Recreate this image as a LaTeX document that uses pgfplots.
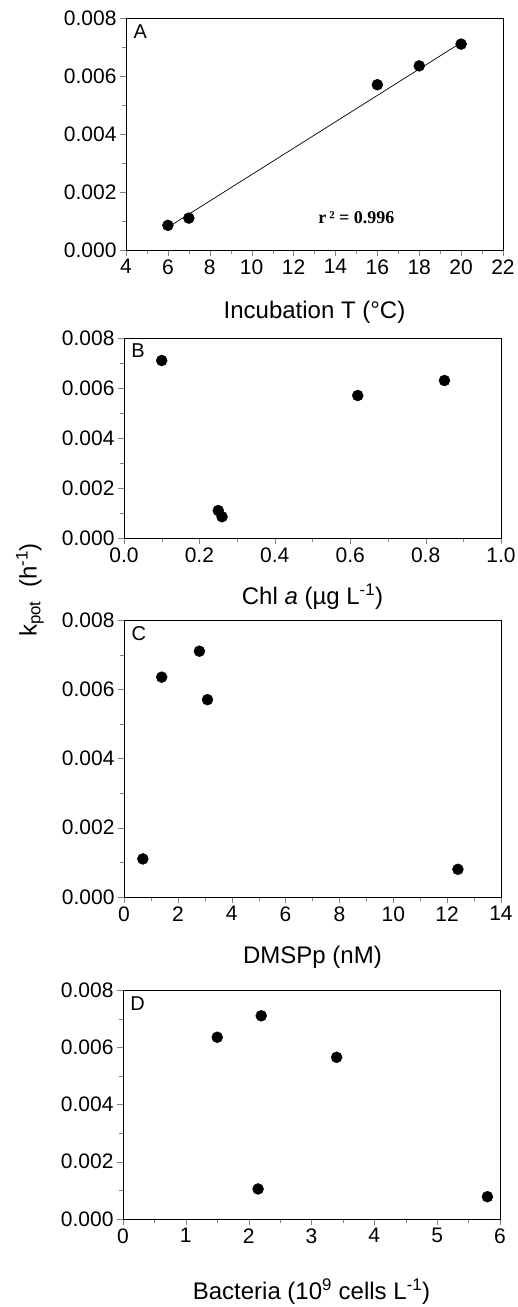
\documentclass[border=0pt]{standalone}
\usepackage{pgfplots}
\pgfplotsset{compat=1.18}
\usepackage{fontspec}
\setmainfont{Liberation Sans}
\newfontfamily\serifr{Liberation Serif}
\begin{document}
\begin{tikzpicture}[x=1pt,y=1pt]
\path[use as bounding box] (0pt,0pt) rectangle (518pt,-1307pt);
\pgfplotsset{every axis/.append style={
  scale only axis, width=377pt, anchor=south west,
  axis line style={line width=0.8pt},
  tick align=outside, xtick pos=bottom, ytick pos=left,
  major tick length=6pt, minor tick length=4pt,
  minor x tick num=1, minor y tick num=1,
  ymin=0, ymax=0.008, ytick={0,0.002,0.004,0.006,0.008},
  scaled y ticks=false,
  yticklabel style={/pgf/number format/.cd,fixed,fixed zerofill,precision=3},
  /pgf/number format/assume math mode=true,
  tick label style={font=\fontsize{21}{21}\selectfont},
  label style={font=\fontsize{24}{24}\selectfont},
  xlabel style={at={(axis description cs:0.5,0)},anchor=center},
  cycle list={{black,mark=*,mark options={fill=black}}},
  every axis plot/.append style={only marks, mark size=5.5pt},
}}
\begin{axis}[at={(126pt,-250pt)}, height=232pt, xmin=4, xmax=22, xtick={4,6,...,22},
  xlabel={Incubation T (°C)}, xlabel style={yshift=-62pt}]
\addplot coordinates {(6,0.00085) (7,0.0011) (16,0.0057) (18,0.00635) (20,0.0071)};
\addplot[no marks, sharp plot, black, line width=0.7pt] coordinates {(6,0.00078) (20,0.00715)};
\node[anchor=north west,font=\fontsize{20}{20}\selectfont] at (axis cs:4.2,0.0079) {A};
\node[font=\fontsize{18}{18}\serifr\bfseries] at (axis cs:15,0.0011) {r\,² = 0.996};
\end{axis}
\begin{axis}[at={(124pt,-538pt)}, height=200pt, xmin=0, xmax=1, xtick={0,0.2,...,1.0},
  xticklabel style={/pgf/number format/.cd,fixed,fixed zerofill,precision=1},
  xlabel={Chl \textit{a} (µg L\textsuperscript{-1})}, xlabel style={yshift=-59pt}]
\addplot coordinates {(0.10,0.0071) (0.25,0.0011) (0.26,0.00085) (0.62,0.0057) (0.85,0.0063)};
\node[anchor=north west,font=\fontsize{20}{20}\selectfont] at (axis cs:0.01,0.0079) {B};
\end{axis}
\begin{axis}[at={(124pt,-897pt)}, height=277pt, xmin=0, xmax=14, xtick={0,2,...,14},
  xlabel={DMSPp (nM)}, xlabel style={yshift=-60pt}]
\addplot coordinates {(0.7,0.0011) (1.4,0.00635) (2.8,0.0071) (3.1,0.0057) (12.4,0.0008)};
\node[anchor=north west,font=\fontsize{20}{20}\selectfont] at (axis cs:0.15,0.0079) {C};
\end{axis}
\begin{axis}[at={(123pt,-1219pt)}, height=229pt, xmin=0, xmax=6, xtick={0,1,...,6},
  xlabel={Bacteria (10\textsuperscript{9} cells L\textsuperscript{-1})}, xlabel style={yshift=-73pt}]
\addplot coordinates {(1.5,0.00635) (2.2,0.0071) (3.4,0.00565) (2.15,0.00105) (5.8,0.00078)};
\node[anchor=north west,font=\fontsize{20}{20}\selectfont] at (axis cs:0.06,0.0079) {D};
\end{axis}
\node[rotate=90,font=\fontsize{24}{24}\selectfont] at (30pt,-590pt) {k\textsubscript{pot}\ \ (h\textsuperscript{-1})};
\end{tikzpicture}
\end{document}
